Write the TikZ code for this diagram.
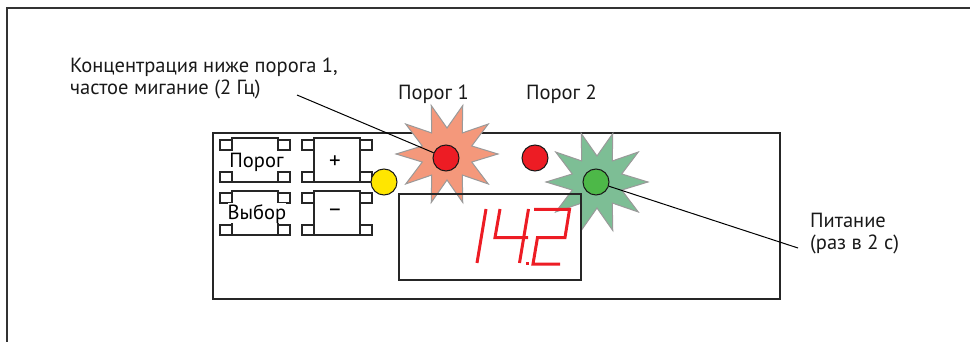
\documentclass[tikz,border=0pt]{standalone}
\usepackage{fontspec}
\setmainfont{PT Sans}
\definecolor{framegray}{HTML}{333333}
\definecolor{ledred}{HTML}{ED1C24}
\definecolor{ledyellow}{HTML}{FFE600}
\definecolor{ledgreen}{HTML}{4DB848}
\definecolor{salmon}{HTML}{F4987B}
\definecolor{glowgreen}{HTML}{7DBE95}
\definecolor{stargray}{HTML}{9A9A9A}
\tikzset{
  outerframe/.style={draw=framegray, line width=1.6pt},
  devbox/.style={draw=black!85, line width=1.2pt},
  btnline/.style={draw=black!85, line width=1.1pt},
  btnlabel/.style={font=\fontsize{20.5}{24}\selectfont, fill=white, inner sep=0pt, text height=16pt, text depth=3.5pt},
  signlabel/.style={font=\fontsize{23}{24}\selectfont, inner sep=0pt},
  led/.style={circle, draw=black!90, line width=1pt, minimum size=26pt, inner sep=0pt},
  glow/.style={draw=stargray, line width=1pt},
  digit/.style={draw=ledred, line width=3pt, line cap=butt, line join=miter},
  callout/.style={draw=black, line width=1pt},
  lbl/.style={font=\fontsize{20.5}{24}\selectfont, inner sep=0pt, text=black!90},
}
\newcommand\mybutton[2]{% left x, top y
  \draw[btnline] (#1,#2) rectangle ++(46,44);
  \draw[btnline] (#1,#2+2) rectangle ++(-12,10);
  \draw[btnline] (#1,#2+34) rectangle ++(-12,10);
  \draw[btnline] (#1+46,#2+2) rectangle ++(12,10);
  \draw[btnline] (#1+46,#2+34) rectangle ++(12,10);
}
\newcommand\mystar[3]{% cx, cy, fill
  \fill[#3] (#1+51,#2) \foreach \i in {1,...,19}{ -- ({#1+(mod(\i,2)==0 ? 51 : 26)*cos(\i*18)},{#2+(mod(\i,2)==0 ? 51 : 26)*sin(\i*18)}) } -- cycle;
  \draw[glow] (#1+51,#2) \foreach \i in {1,...,19}{ -- ({#1+(mod(\i,2)==0 ? 51 : 26)*cos(\i*18)},{#2+(mod(\i,2)==0 ? 51 : 26)*sin(\i*18)}) } -- cycle;
}
\begin{document}
\begin{tikzpicture}[x=1pt,y=-1pt]
\useasboundingbox (0,0) rectangle (970,342);
% outer frame (cropped)
\draw[outerframe] (7,343) -- (7,8) -- (971,8);
% device box
\draw[devbox] (213,133) rectangle (780,299);
% buttons
\mybutton{232}{138}
\mybutton{314}{138}
\mybutton{232}{191}
\mybutton{314}{191}
\node[btnlabel] (bporog) at (256.5,161) {Порог};
\node[btnlabel] (bvybor) at (257,213) {Выбор};
\node[signlabel] (bplus) at (335,162) {+};
\node[signlabel] (bminus) at (335,213) {–};
% glow stars
\mystar{447}{154}{salmon}
\mystar{597}{182}{glowgreen}
% display
\draw[devbox] (399,194) rectangle (581,280);
% digits 14.2
\draw[digit] (486,209) -- (477,263);
\draw[digit] (500,209) -- (495,237.5) -- (528,237.5);
\draw[digit] (528.5,209) -- (519.5,263);
\fill[ledred] (525.5,261.5) rectangle ++(3.5,3.5);
\draw[digit] (534,209.5) -- (569.5,209.5) -- (565,237.5) -- (537.5,237.5) -- (533,264) -- (560,264);
% LEDs
\node[led, fill=ledyellow] (y1) at (384,182) {};
\node[led, fill=ledred] (r1) at (446,158) {};
\node[led, fill=ledred] (r2) at (535,158) {};
\node[led, fill=ledgreen] (g1) at (596,182) {};
% callouts
\coordinate (c1) at (297,95);
\coordinate (c2) at (798,248);
\draw[callout] (c1) -- (r1);
\draw[callout] (g1) -- (c2);
% labels
\node[lbl, anchor=base west] (t1) at (70,73) {Концентрация ниже порога 1,};
\node[lbl, anchor=base west] (t2) at (70,95) {частое мигание (2 Гц)};
\node[lbl, anchor=base] (p1) at (433.5,100) {Порог 1};
\node[lbl, anchor=base] (p2) at (561.5,100) {Порог 2};
\node[lbl, anchor=base west] (t3) at (810,228) {Питание};
\node[lbl, anchor=base west] (t4) at (810,250) {(раз в 2 с)};
\end{tikzpicture}
\end{document}
